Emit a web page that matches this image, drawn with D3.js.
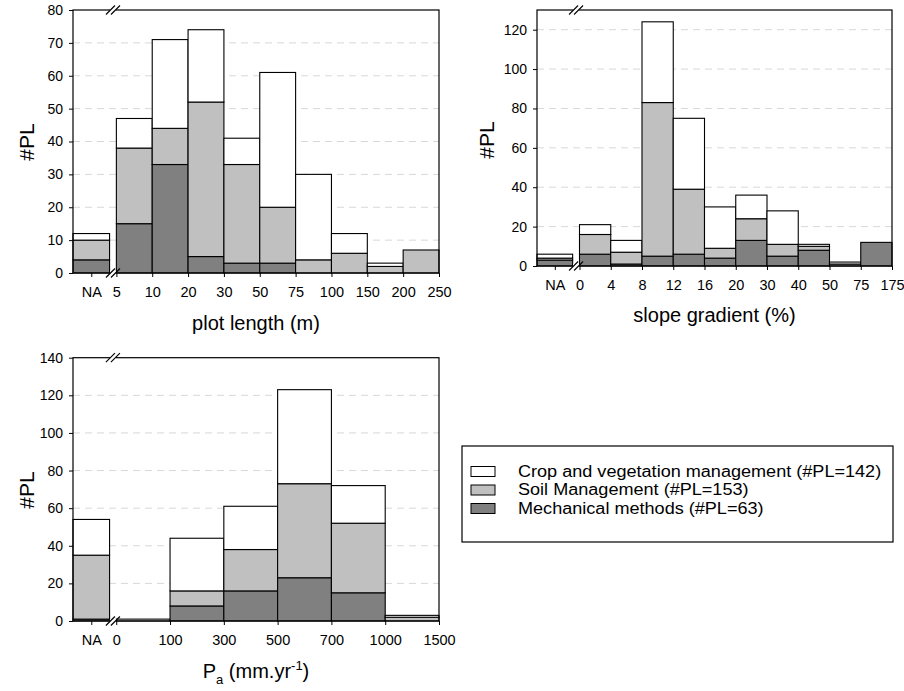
<!DOCTYPE html>
<html>
<head>
<meta charset="utf-8">
<script src="https://cdn.jsdelivr.net/npm/d3@7"></script>
<style>
  body { margin: 0; background: #fff; }
  svg { font-family: "Liberation Sans", Arial, sans-serif; }
  .tick text { fill: #000; }
  .ytick .tick text { font-size: 14px; }
  .xtick .tick text { font-size: 14.5px; }
  .tick line { stroke: #000; }
</style>
</head>
<body>
<div id="chart"></div>
<script>
// series order: NA bin first, then the numeric bins between the edges
const seriesNames = [
  "Crop and vegetation management (#PL=142)",
  "Soil Management (#PL=153)",
  "Mechanical methods (#PL=63)"
];
const seriesColors = ["#ffffff", "#c0c0c0", "#808080"];

// plot length (m)
const lengthEdges = ["5", "10", "20", "30", "50", "75", "100", "150", "200", "250"];
const lengthMech  = [4, 15, 33, 5, 3, 3, 0, 0, 0, 0];
const lengthSoil  = [6, 23, 11, 47, 30, 17, 4, 6, 2, 7];
const lengthCrop  = [2, 9, 27, 22, 8, 41, 26, 6, 1, 0];

// slope gradient (%)
const slopeEdges = ["0", "4", "8", "12", "16", "20", "30", "40", "50", "75", "175"];
const slopeMech  = [3, 6, 1, 5, 6, 4, 13, 5, 8, 0, 12];
const slopeSoil  = [1, 10, 6, 78, 33, 5, 11, 6, 2, 1, 0];
const slopeCrop  = [2, 5, 6, 41, 36, 21, 12, 17, 1, 1, 0];

// annual precipitation
const rainEdges = ["0", "100", "300", "500", "700", "1000", "1500"];
const rainMech  = [1, 0, 8, 16, 23, 15, 0];
const rainSoil  = [34, 0, 8, 22, 50, 37, 2];
const rainCrop  = [19, 1, 28, 23, 50, 20, 1];

const svg = d3.select("#chart")
  .append("svg")
    .attr("width", 904)
    .attr("height", 691);

const panels = [
  { box: [73, 10, 439, 273], yMax: 80, yStep: 10, naW: 1.02, gap: 0.19,
    edges: lengthEdges, mech: lengthMech, soil: lengthSoil, crop: lengthCrop,
    yLabel: [26, 142], xTitle: "plot length (m)", xTitleY: 330 },
  { box: [537, 10, 892, 266], yMax: 130, yStep: 20, naW: 1.14, gap: 0.22,
    edges: slopeEdges, mech: slopeMech, soil: slopeSoil, crop: slopeCrop,
    yLabel: [486, 140], xTitle: "slope gradient (%)", xTitleY: 322 },
  { box: [73, 357.7, 439, 621], yMax: 140, yStep: 20, naW: 0.68, gap: 0.124,
    edges: rainEdges, mech: rainMech, soil: rainSoil, crop: rainCrop,
    yLabel: [26, 490], xTitle: null, xTitleY: 678 }
];

panels.forEach(p => {
  const [x0, y0, x1, y1] = p.box;
  const nBins = p.edges.length - 1;
  const g = svg.append("g");

  const x = d3.scaleLinear()
    .domain([-(p.naW + p.gap), nBins])
    .range([x0, x1]);
  const y = d3.scaleLinear()
    .domain([0, p.yMax])
    .range([y1, y0]);

  // dashed grid
  const ticks = d3.range(0, p.yMax + 1, p.yStep);
  g.selectAll("line.grid")
    .data(ticks.filter(t => t > 0 && t < p.yMax))
    .join("line")
      .attr("class", "grid")
      .attr("x1", x0).attr("x2", x1)
      .attr("y1", d => y(d)).attr("y2", d => y(d))
      .attr("stroke", "#d8d8d8")
      .attr("stroke-dasharray", "7,5");

  // stacked bars: bin -1 is NA
  const bins = p.mech.map((m, i) => {
    const left  = i === 0 ? -(p.naW + p.gap) : i - 1;
    const right = i === 0 ? -p.gap : i;
    return { left, right, vals: [m, p.soil[i], p.crop[i]] };
  });
  const segs = [];
  bins.forEach(b => {
    let base = 0;
    // mechanical at bottom, then soil, then crop
    [2, 1, 0].forEach((s, k) => {
      const v = b.vals[k];
      if (v > 0) segs.push({ left: b.left, right: b.right, lo: base, hi: base + v, s });
      base += v;
    });
  });
  g.selectAll("rect.seg")
    .data(segs)
    .join("rect")
      .attr("class", "seg")
      .attr("x", d => x(d.left))
      .attr("width", d => x(d.right) - x(d.left))
      .attr("y", d => y(d.hi))
      .attr("height", d => y(d.lo) - y(d.hi))
      .attr("fill", d => seriesColors[d.s])
      .attr("stroke", "#000")
      .attr("stroke-width", 1.1);

  // frame
  g.append("rect")
    .attr("x", x0).attr("y", y0)
    .attr("width", x1 - x0).attr("height", y1 - y0)
    .attr("fill", "none")
    .attr("stroke", "#000")
    .attr("stroke-width", 1.2);

  // axis break marks
  const bx = x(-p.gap / 2);
  [y0, y1].forEach(by => {
    g.append("rect")
      .attr("x", bx - 3).attr("y", by - 2)
      .attr("width", 6).attr("height", 4)
      .attr("fill", "#fff");
    [-2.5, 2.5].forEach(off => {
      g.append("line")
        .attr("x1", bx + off - 4.5).attr("y1", by + 4.5)
        .attr("x2", bx + off + 4.5).attr("y2", by - 4.5)
        .attr("stroke", "#000")
        .attr("stroke-width", 1.1);
    });
  });

  // y axis
  g.append("g")
    .attr("class", "ytick")
    .attr("transform", `translate(${x0},0)`)
    .call(d3.axisLeft(y).tickValues(ticks).tickSize(4).tickPadding(6))
    .call(a => a.select(".domain").remove());

  // x axis: NA at the middle of its bin, numbers on the edges
  const naPos = -(p.gap + p.naW / 2);
  const xTicks = [naPos].concat(d3.range(0, nBins + 1));
  const xLabels = ["NA"].concat(p.edges);
  g.append("g")
    .attr("class", "xtick")
    .attr("transform", `translate(0,${y1})`)
    .call(d3.axisBottom(x)
      .tickValues(xTicks)
      .tickFormat((d, i) => xLabels[i])
      .tickSize(4)
      .tickPadding(10))
    .call(a => a.select(".domain").remove());

  // y title
  g.append("text")
    .attr("transform", `translate(${p.yLabel[0]},${p.yLabel[1]}) rotate(-90)`)
    .attr("text-anchor", "middle")
    .attr("dominant-baseline", "central")
    .attr("font-size", 21)
    .text("#PL");

  // x title
  const t = g.append("text")
    .attr("x", (x0 + x1) / 2)
    .attr("y", p.xTitleY)
    .attr("text-anchor", "middle")
    .attr("font-size", 20);
  if (p.xTitle) {
    t.text(p.xTitle);
  } else {
    t.append("tspan").text("P");
    t.append("tspan").attr("font-size", 13).attr("dy", 6).text("a");
    t.append("tspan").attr("dy", -6).text(" (mm.yr");
    t.append("tspan").attr("font-size", 13).attr("dy", -8).text("-1");
    t.append("tspan").attr("dy", 8).text(")");
  }
});

// legend
const legend = svg.append("g");
legend.append("rect")
  .attr("x", 462).attr("y", 446)
  .attr("width", 431).attr("height", 96)
  .attr("fill", "#fff")
  .attr("stroke", "#000")
  .attr("stroke-width", 1.2);

const ly = d3.scalePoint()
  .domain(seriesNames)
  .range([471.5, 508.5]);

legend.selectAll("rect.sw")
  .data(seriesNames)
  .join("rect")
    .attr("class", "sw")
    .attr("x", 471)
    .attr("y", d => ly(d) - 5)
    .attr("width", 24)
    .attr("height", 10)
    .attr("fill", (d, i) => seriesColors[i])
    .attr("stroke", "#000")
    .attr("stroke-width", 1);

// the reference text is set wide, so stretch it a little
legend.selectAll("text.lab")
  .data(seriesNames)
  .join("text")
    .attr("class", "lab")
    .attr("transform", d => `translate(518,${ly(d)}) scale(1.13,1)`)
    .attr("dominant-baseline", "central")
    .attr("font-size", 16)
    .text(d => d);
</script>
</body>
</html>
